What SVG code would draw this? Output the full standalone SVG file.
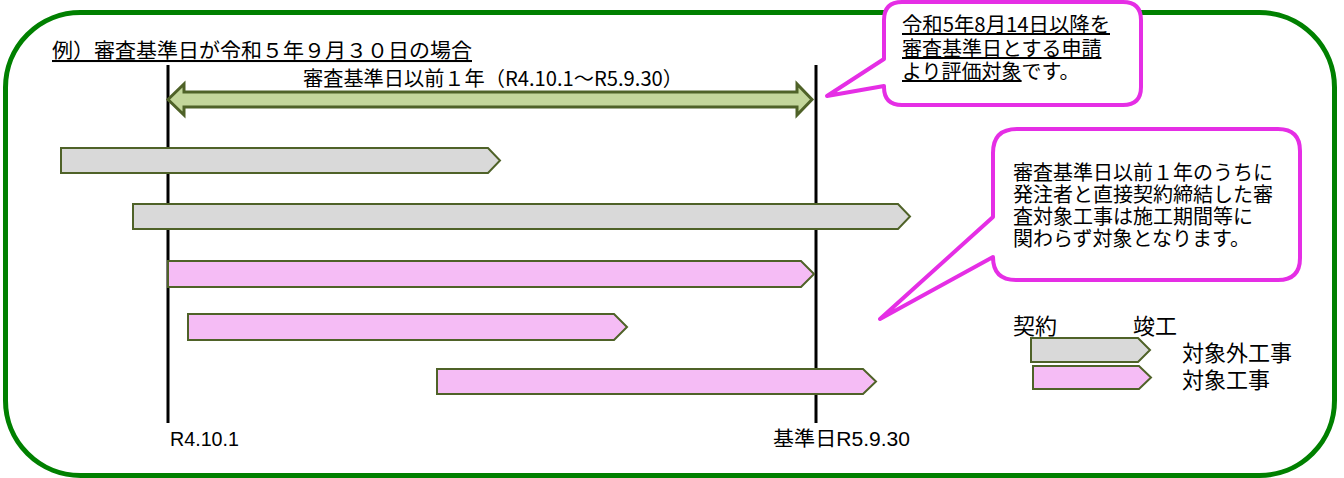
<svg xmlns="http://www.w3.org/2000/svg" width="1344" height="478" viewBox="0 0 1344 478">
<style>
.frame{fill:none;stroke:#008000;stroke-width:5}
.grey{fill:#d9d9d9;stroke:#4f6228;stroke-width:2;stroke-linejoin:miter}
.pink{fill:#f5bcf5;stroke:#4f6228;stroke-width:2;stroke-linejoin:miter}
.vline{stroke:#000;stroke-width:3;fill:none}
.span{fill:#c3d69b;stroke:#4f6228;stroke-width:3;stroke-linejoin:miter}
.callout{fill:#fff;stroke:#e52ee5;stroke-width:4;stroke-linejoin:round}
.t{font-family:"Noto Sans CJK JP","Noto Sans CJK SC",sans-serif;fill:#000}
.lat{font-family:"Liberation Sans","Noto Sans CJK JP",sans-serif;fill:#000}
.u{text-decoration:underline}
</style>
<rect id="frame" class="frame" x="5.5" y="12.5" width="1329" height="463" rx="75" ry="75"/>
<g id="title"><text class="t u" x="52" y="58" font-size="20.5" textLength="420" lengthAdjust="spacingAndGlyphs">例）審査基準日が令和５年９月３０日の場合</text></g>
<g id="connectors">
<line id="line-start" class="vline" x1="168" y1="65" x2="168" y2="423"/>
<line id="line-base" class="vline" x1="816" y1="65" x2="816" y2="423"/>
<polygon id="span-arrow" class="span" points="168,99.5 184,84 184,92 797,92 797,84 812,99.5 797,115 797,107 184,107 184,115"/>
</g>
<g id="span-label"><text class="t" x="303" y="86" font-size="20" textLength="380" lengthAdjust="spacingAndGlyphs">審査基準日以前１年（R4.10.1～R5.9.30）</text></g>
<g id="bar1"><polygon class="grey" points="61,148 488,148 500,160.5 488,173 61,173"/></g>
<g id="bar2"><polygon class="grey" points="133,204 898,204 910,216.5 898,229 133,229"/></g>
<g id="bar3"><polygon class="pink" points="168,261 801,261 814,274 801,287 168,287"/></g>
<g id="bar4"><polygon class="pink" points="188,314 614,314 627,327 614,340 188,340"/></g>
<g id="bar5"><polygon class="pink" points="437,369 863,369 876,381.5 863,394 437,394"/></g>
<g id="label-start"><text class="lat" x="170" y="446" font-size="20" textLength="69" lengthAdjust="spacingAndGlyphs">R4.10.1</text></g>
<g id="label-base"><text class="lat" x="773" y="446" font-size="20" textLength="137" lengthAdjust="spacingAndGlyphs">基準日R5.9.30</text></g>
<g id="callout-top">
<path class="callout" d="M902 2 H1123 Q1141 2 1141 20 V87 Q1141 105 1123 105 H902 Q884 105 884 87 V86 L827 96 L884 59 V20 Q884 2 902 2 Z"/>
<text class="t" font-size="20"><tspan class="u" x="902" y="32" textLength="208" lengthAdjust="spacingAndGlyphs">令和5年8月14日以降を</tspan><tspan class="u" x="902" y="56">審査基準日とする申請</tspan><tspan x="902" y="79"><tspan class="u">より評価対象</tspan>です。</tspan></text>
</g>
<g id="callout-right">
<path class="callout" d="M1017 129 H1278 Q1300 129 1300 151 V258 Q1300 280 1278 280 H1016 Q993 280 993 257 L880 319 L993 217 V153 Q993 129 1017 129 Z"/>
<text class="t" font-size="20"><tspan x="1013" y="180">審査基準日以前１年のうちに</tspan><tspan x="1013" y="202">発注者と直接契約締結した審</tspan><tspan x="1013" y="224">査対象工事は施工期間等に</tspan><tspan x="1013" y="246">関わらず対象となります。</tspan></text>
</g>
<g id="legend">
<text class="t" x="1013" y="334" font-size="22">契約</text>
<text class="t" x="1133" y="334" font-size="22">竣工</text>
<polygon class="grey" points="1031,338 1138,338 1150,350 1138,362 1031,362"/>
<polygon class="pink" points="1033,366 1139,366 1151,377.5 1139,389 1033,389"/>
<text class="t" x="1182" y="361" font-size="22">対象外工事</text>
<text class="t" x="1182" y="388" font-size="22">対象工事</text>
</g>
</svg>
